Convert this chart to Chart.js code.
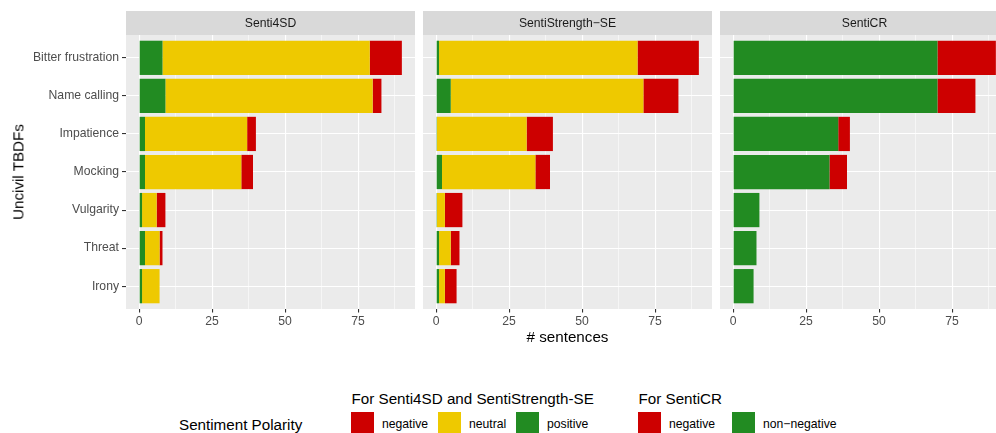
<!DOCTYPE html>
<html>
<head>
<meta charset="utf-8">
<script src="https://cdn.jsdelivr.net/npm/chart.js@4.4.1/dist/chart.umd.min.js"></script>
<style>
  body { margin: 0; width: 996px; height: 433px; overflow: hidden; background: #fff; position: relative;
         font-family: "Liberation Sans", Arial, sans-serif; }
  .panel { position: absolute; top: 0; }
  .txt { position: absolute; white-space: nowrap; line-height: 1; color: #000; }
  .title { font-size: 15.2px; }
  .lab { font-size: 12.2px; top: 417.7px; }
  .key { position: absolute; width: 23px; height: 23px; top: 412px; }
</style>
</head>
<body>
<div class="panel" style="left:0px"><canvas id="senti4sd" width="420" height="336"></canvas></div>
<div class="panel" style="left:418px"><canvas id="sentistrength" width="300" height="336"></canvas></div>
<div class="panel" style="left:715px"><canvas id="senticr" width="300" height="336"></canvas></div>

<!-- axis titles -->
<div class="txt title" style="left:17.5px; top:172px; transform: translate(-50%, -50%) rotate(-90deg);">Uncivil TBDFs</div>
<div class="txt title" style="left:567.5px; top:328.7px; transform: translateX(-50%);"># sentences</div>

<!-- legend -->
<div class="txt title" style="left:179px; top:417px;">Sentiment Polarity</div>
<div class="txt title" style="left:351.5px; top:391.4px;">For Senti4SD and SentiStrength-SE</div>
<div class="key" style="left:351px; background:#CD0000"></div>
<div class="txt lab" style="left:382px;">negative</div>
<div class="key" style="left:437.5px; background:#EEC900"></div>
<div class="txt lab" style="left:469px;">neutral</div>
<div class="key" style="left:516px; background:#228B22"></div>
<div class="txt lab" style="left:547px;">positive</div>
<div class="txt title" style="left:638.5px; top:391.4px;">For SentiCR</div>
<div class="key" style="left:638px; background:#CD0000"></div>
<div class="txt lab" style="left:669px;">negative</div>
<div class="key" style="left:732px; background:#228B22"></div>
<div class="txt lab" style="left:763px;">non−negative</div>

<script>
// categories, top to bottom
const categories = ["Bitter frustration", "Name calling", "Impatience", "Mocking", "Vulgarity", "Threat", "Irony"];

// Senti4SD
const senti4sdPositive = [8, 9, 2, 2, 1, 2, 1];
const senti4sdNeutral  = [71, 71, 35, 33, 5, 5, 6];
const senti4sdNegative = [11, 3, 3, 4, 3, 1, 0];

// SentiStrength-SE
const strengthPositive = [1, 5, 0.3, 2, 0.3, 1, 1];
const strengthNeutral  = [68, 66, 30.7, 32, 2.7, 4, 2];
const strengthNegative = [21, 12, 9, 5, 6, 3, 4];

// SentiCR
const senticrNonNegative = [70, 70, 36, 33, 9, 8, 7];
const senticrNegative    = [20, 13, 4, 6, 0, 0, 0];

// x axis ticks
const majorTicks = [0, 25, 50, 75];
const minorTicks = [12.5, 37.5, 62.5, 87.5];

const RED = "#CD0000", YELLOW = "#EEC900", GREEN = "#228B22";
const FONT = '"Liberation Sans", Arial, sans-serif';

// panel background + strip on top
const panelDeco = {
    id: "panelDeco",
    beforeDraw(chart, args, opts) {
        const ctx = chart.ctx;
        const a = chart.chartArea;
        ctx.save();
        ctx.fillStyle = "#EBEBEB";
        ctx.fillRect(a.left, a.top, a.right - a.left, a.bottom - a.top);
        ctx.fillStyle = "#D9D9D9";
        ctx.fillRect(a.left, 11, a.right - a.left, 24);
        ctx.fillStyle = "#1A1A1A";
        ctx.font = "12.2px " + FONT;
        ctx.textAlign = "center";
        ctx.textBaseline = "middle";
        ctx.fillText(opts.title, (a.left + a.right) / 2, 23.5);
        ctx.restore();
    }
};

function series(values, color) {
    return {
        data: values.map(function(v, i) { return { x: v, y: i + 1 }; }),
        backgroundColor: color,
        borderWidth: 0,
        categoryPercentage: 1,
        barPercentage: 0.9
    };
}

function makeChart(id, title, datasets, showY) {
    const allTicks = majorTicks.concat(minorTicks).sort(function(a, b) { return a - b; });
    return new Chart(document.getElementById(id), {
        type: "bar",
        data: { datasets: datasets },
        plugins: [panelDeco],
        options: {
            indexAxis: "y",
            responsive: false,
            animation: false,
            devicePixelRatio: 1,
            layout: { padding: { top: 35, bottom: 0, left: showY ? 0 : 5, right: showY ? 5 : 6 } },
            plugins: {
                legend: { display: false },
                tooltip: { enabled: false },
                panelDeco: { title: title }
            },
            scales: {
                x: {
                    type: "linear",
                    min: -4.5,
                    max: 94.5,
                    stacked: true,
                    offset: false,
                    afterBuildTicks: function(s) { s.ticks = allTicks.map(function(v) { return { value: v }; }); },
                    afterFit: function(s) { s.height = 27; },
                    border: { display: false },
                    grid: {
                        offset: false,
                        color: "#FFFFFF",
                        lineWidth: function(c) { return majorTicks.includes(c.tick.value) ? 1.1 : 0.55; },
                        tickLength: 3.5,
                        tickColor: function(c) { return majorTicks.includes(c.tick.value) ? "#333333" : "rgba(0,0,0,0)"; }
                    },
                    ticks: {
                        autoSkip: false,
                        maxRotation: 0,
                        padding: 2,
                        color: "#4D4D4D",
                        font: { size: 12.2, family: FONT },
                        callback: function(v) { return majorTicks.includes(v) ? String(v) : ""; }
                    }
                },
                y: {
                    type: "linear",
                    min: 0.4,
                    max: 7.6,
                    reverse: true,
                    stacked: true,
                    offset: false,
                    afterBuildTicks: function(s) { s.ticks = categories.map(function(c, i) { return { value: i + 1 }; }); },
                    afterFit: function(s) { s.width = showY ? 126 : 0; },
                    border: { display: false },
                    grid: {
                        offset: false,
                        color: "#FFFFFF",
                        lineWidth: 1.1,
                        drawTicks: showY,
                        tickLength: 4,
                        tickColor: "#333333"
                    },
                    ticks: {
                        display: showY,
                        autoSkip: false,
                        padding: 3,
                        color: "#4D4D4D",
                        font: { size: 12.2, family: FONT },
                        callback: function(v) { return categories[Math.round(v) - 1]; }
                    }
                }
            }
        }
    });
}

makeChart("senti4sd", "Senti4SD", [
    series(senti4sdPositive, GREEN),
    series(senti4sdNeutral, YELLOW),
    series(senti4sdNegative, RED)
], true);

makeChart("sentistrength", "SentiStrength\u2212SE", [
    series(strengthPositive, GREEN),
    series(strengthNeutral, YELLOW),
    series(strengthNegative, RED)
], false);

makeChart("senticr", "SentiCR", [
    series(senticrNonNegative, GREEN),
    series(senticrNegative, RED)
], false);
</script>
</body>
</html>
